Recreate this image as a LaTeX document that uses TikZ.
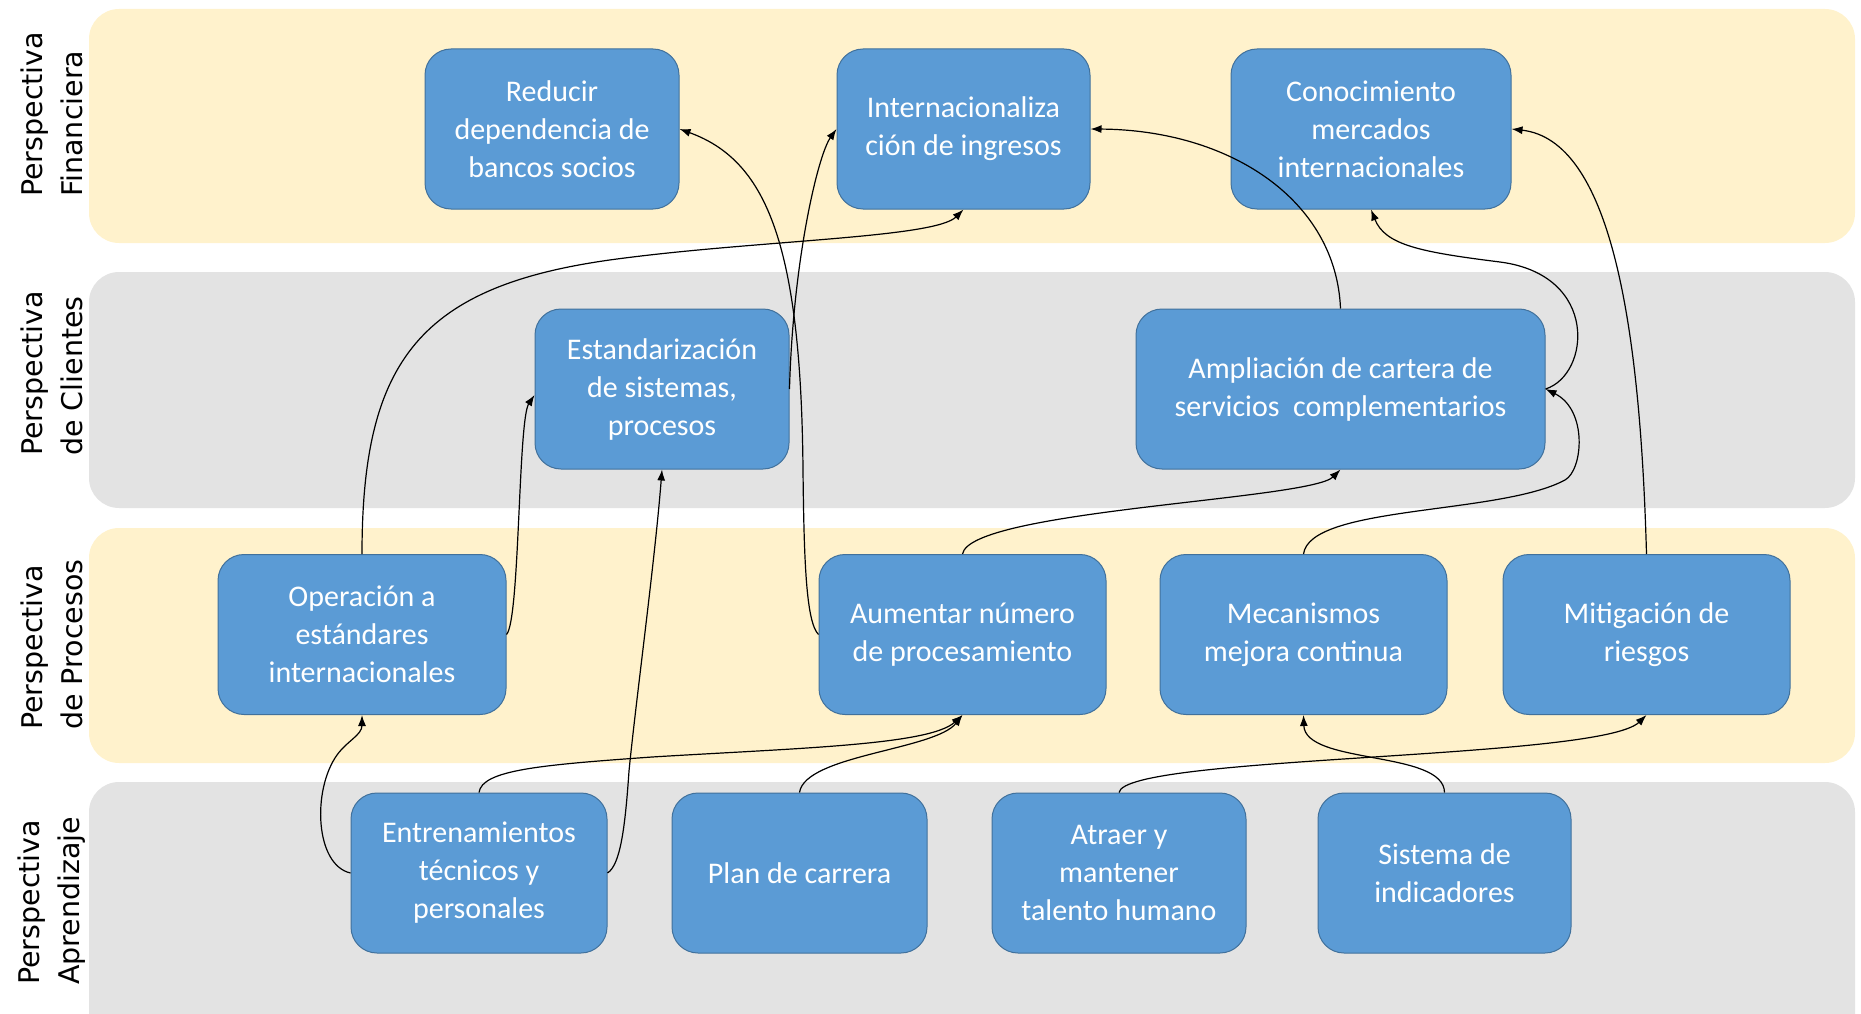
\documentclass[tikz,border=0pt]{standalone}
\usepackage{fontspec}
\setmainfont{Carlito}
\newfontfamily\labfont{DejaVu Sans}
\usetikzlibrary{arrows.meta}
\definecolor{cream}{HTML}{FFF2CC}
\definecolor{bandgray}{HTML}{E3E3E3}
\definecolor{boxfill}{HTML}{5B9BD5}
\definecolor{boxline}{HTML}{41719C}
\begin{document}
\begin{tikzpicture}[x=1pt,y=-1pt,
  bandc/.style={fill=cream, rounded corners=30pt},
  bandg/.style={fill=bandgray, rounded corners=30pt},
  box/.style={draw=boxline, line width=1pt, fill=boxfill, rounded corners=26pt, text=white, align=center, inner sep=0pt, minimum height=160pt, font=\fontsize{30}{38}\selectfont},
  lab/.style={rotate=90, anchor=west, align=left, inner sep=0pt, font=\labfont\fontsize{28.5}{40}\selectfont},
  conn/.style={draw=black, line width=1.2pt, -{Latex[length=11pt,width=8pt]}}
]
\useasboundingbox (0,0) rectangle (1861,1014);
% bands
\path[bandc] (89,9) rectangle (1855,243);
\path[bandg] (89,272) rectangle (1855,508);
\path[bandc] (89,528) rectangle (1855,763);
\path[bandg] (89,782) rectangle (1855,1044);
% labels
\node[lab] (lf) at (52,197) {Perspectiva\\Financiera};
\node[lab] (lc) at (52,456) {Perspectiva\\de Clientes};
\node[lab] (lp) at (52,730) {Perspectiva\\de Procesos};
\node[lab] (la) at (52,985) {Perspectiva\\Aprendizaje};
% boxes
\node[box, minimum width=254pt] (red) at (552,129) {Reducir\\dependencia de\\bancos socios};
\node[box, minimum width=253pt] (int) at (963.5,129) {Internacionaliza\\ción de ingresos};
\node[box, minimum width=280pt] (con) at (1371,129) {Conocimiento\\mercados\\internacionales};
\node[box, minimum width=254pt] (est) at (662,389) {Estandarización\\de sistemas,\\procesos};
\node[box, minimum width=409pt] (amp) at (1340.5,389) {Ampliación de cartera de\\servicios\ \ complementarios};
\node[box, minimum width=288pt] (op) at (362,634.5) {Operación a\\estándares\\internacionales};
\node[box, minimum width=287pt] (aum) at (962.5,634.5) {Aumentar número\\de procesamiento};
\node[box, minimum width=287pt] (mec) at (1303.5,634.5) {Mecanismos\\mejora continua};
\node[box, minimum width=287pt] (mit) at (1646.5,634.5) {Mitigación de\\riesgos};
\node[box, minimum width=256pt] (ent) at (479,873) {Entrenamientos\\técnicos y\\personales};
\node[box, minimum width=255pt] (plan) at (799.5,873) {Plan de carrera};
\node[box, minimum width=254pt] (atr) at (1119,873) {Atraer y\\mantener\\talento humano};
\node[box, minimum width=253pt] (sis) at (1444.5,873) {Sistema de\\indicadores};
% connectors
\draw[conn] (op.north) .. controls (362,360) and (420,285) .. (617,259) .. controls (760,240) and (935,238) .. (int.south);
\draw[conn] (ent.west) .. controls (315,865) and (312,790) .. (337,755) .. controls (347,741) and (362,735) .. (op.south);
\draw[conn] (ent.east) .. controls (620,865) and (625,830) .. (629,771) .. controls (636,700) and (655,560) .. (est.south);
\draw[conn] (ent.north) .. controls (482,770) and (540,765) .. (652,757) .. controls (800,748) and (930,745) .. (aum.south);
\draw[conn] (plan.north) .. controls (805,755) and (935,750) .. (aum.south);
\draw[conn] (aum.west) .. controls (806,622) and (804,560) .. (803,470) .. controls (801,240) and (765,160) .. (red.east);
\draw[conn] (est.east) .. controls (793,260) and (818,155) .. (int.west);
\draw[conn] (amp.north) .. controls (1336,200) and (1230,130) .. (int.east);
\draw[conn] (aum.north) .. controls (970,510) and (1310,500) .. (amp.south);
\draw[conn] (mec.north) .. controls (1310,505) and (1500,515) .. (1565,480) .. controls (1583,470) and (1588,410) .. (amp.east);
\draw[conn] (amp.east) .. controls (1590,375) and (1600,275) .. (1500,262) .. controls (1420,252) and (1385,245) .. (con.south);
\draw[conn] (mit.north) .. controls (1640,320) and (1610,140) .. (con.east);
\draw[conn] (atr.north) .. controls (1125,755) and (1600,760) .. (mit.south);
\draw[conn] (sis.north) .. controls (1444,750) and (1305,765) .. (mec.south);
\draw[conn] (op.east) .. controls (520,620) and (518,420) .. ([yshift=-6pt]est.west);
\end{tikzpicture}
\end{document}
